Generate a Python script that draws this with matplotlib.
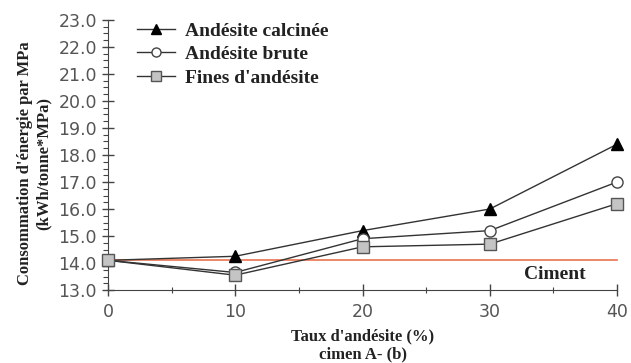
import matplotlib.pyplot as plt
from matplotlib.ticker import MultipleLocator

taux = [0, 10, 20, 30, 40]
calcinee = [14.1, 14.25, 15.2, 16.0, 18.4]
brute = [14.1, 13.65, 14.9, 15.2, 17.0]
fines = [14.1, 13.55, 14.6, 14.7, 16.2]
ciment = 14.1

serif = {'family': 'Liberation Serif', 'weight': 'bold'}

fig = plt.figure(figsize=(6.31, 3.63), dpi=100)
fig.set_facecolor('w')
ax = fig.add_axes([0.171, 0.201, 0.807, 0.744])

ax.axhline(ciment, xmin=0, xmax=1, color='#e8734f', lw=1.2, zorder=1)
ax.plot(taux, calcinee, color='#333333', lw=1, marker='^', ms=8,
        mfc='black', mec='black', label='Andésite calcinée', zorder=3)
ax.plot(taux, brute, color='#333333', lw=1, marker='o', ms=8,
        mfc='white', mec='#444444', label='Andésite brute', zorder=3)
ax.plot(taux, fines, color='#333333', lw=1, marker='s', ms=8,
        mfc='#c4c4c4', mec='#555555', label="Fines d'andésite", zorder=3)

ax.text(35.1, 13.56, 'Ciment', ha='center', va='center', fontsize=14,
        color='#222222', fontdict=serif)

ax.set_xlim(0, 40)
ax.set_ylim(13, 23)
ax.xaxis.set_major_locator(MultipleLocator(10))
ax.xaxis.set_minor_locator(MultipleLocator(5))
ax.yaxis.set_major_locator(MultipleLocator(1))
ax.yaxis.set_minor_locator(MultipleLocator(0.25))
ax.yaxis.set_major_formatter(lambda v, p: f'{v:.1f}')
ax.tick_params(which='major', direction='inout', length=9, width=1,
               color='#444444', labelsize=12.5, labelcolor='#555555')
ax.tick_params(which='minor', direction='out', length=3.5, width=0.8,
               color='#444444')
ax.tick_params(axis='x', which='minor', direction='inout', length=5)
ax.tick_params(axis='x', pad=5)
for s in ['top', 'right']:
    ax.spines[s].set_visible(False)
for s in ['left', 'bottom']:
    ax.spines[s].set_color('#444444')
    ax.spines[s].set_clip_on(False)
for l in ax.lines:
    l.set_clip_on(False)

ax.set_xlabel("Taux d'andésite (%)\ncimen A- (b)", fontdict=serif,
              fontsize=12, color='#222222', labelpad=5, linespacing=1.15)
ax.set_ylabel("Consommation d'énergie par MPa\n(kWh/tonne*MPa)", fontdict=serif,
              fontsize=12, color='#222222', linespacing=1.2)
ax.yaxis.set_label_coords(-0.110, 0.47)

leg = ax.legend(loc='upper left', bbox_to_anchor=(0.022, 1.057), frameon=False,
                prop={'family': 'Liberation Serif', 'weight': 'bold', 'size': 14},
                handlelength=2.0, labelspacing=0.3, handletextpad=0.5)
for t in leg.get_texts():
    t.set_color('#222222')
for h in leg.legend_handles:
    h.set_markersize(6.5)

fig.savefig('out.png', dpi=100)
